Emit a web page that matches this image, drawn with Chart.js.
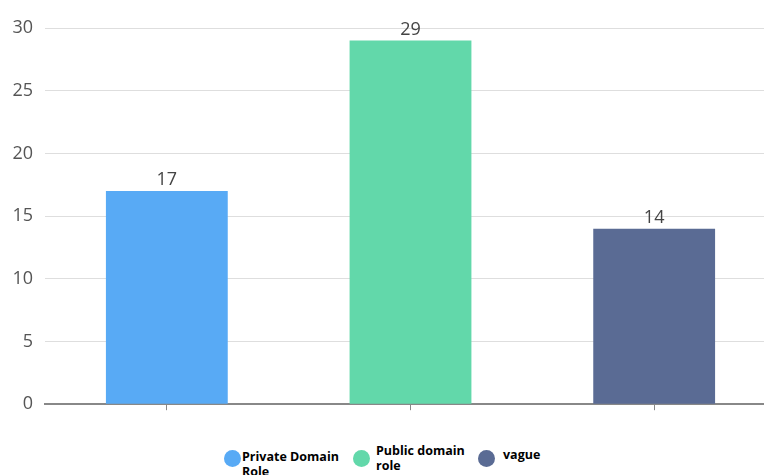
<!DOCTYPE html>
<html>
<head>
<meta charset="utf-8">
<script src="https://cdn.jsdelivr.net/npm/chart.js@4"></script>
<style>
  html, body { margin: 0; padding: 0; background: #fff; overflow: hidden; }
  #wrap { position: relative; width: 764px; height: 475px; overflow: hidden; }
  #box { position: absolute; left: 0; top: 0; width: 780px; height: 427px; }
  .leg { position: absolute; font-family: "Open Sans", "Noto Sans", sans-serif; font-weight: bold;
         font-size: 12.5px; line-height: 15px; color: #000; }
  .dot { position: absolute; width: 17px; height: 17px; border-radius: 50%; }
</style>
</head>
<body>
<div id="wrap">
  <div id="box"><canvas id="graphique"></canvas></div>
  <div class="dot" style="left:224px;top:450px;background:#58aaf5"></div>
  <div class="leg" style="left:242px;top:449px">Private Domain<br>Role</div>
  <div class="dot" style="left:353px;top:450px;background:#62d8aa"></div>
  <div class="leg" style="left:376px;top:443px">Public domain<br>role</div>
  <div class="dot" style="left:478px;top:450px;background:#5a6b94"></div>
  <div class="leg" style="left:503px;top:447px">vague</div>
</div>
<script>
// Données du graphique
const categories = ["Private Domain Role", "Public domain role", "vague"];
const valeurs = [17, 29, 14];
const couleurs = ["#58aaf5", "#62d8aa", "#5a6b94"];
const graduations = [0, 5, 10, 15, 20, 25, 30];

// Afficher la valeur au-dessus de chaque barre
const etiquettes = {
  id: "etiquettes",
  afterDatasetsDraw(chart) {
    const ctx = chart.ctx;
    ctx.save();
    ctx.font = "18px 'Open Sans', sans-serif";
    ctx.fillStyle = "#444";
    ctx.textAlign = "center";
    ctx.textBaseline = "bottom";
    chart.getDatasetMeta(0).data.forEach((barre, i) => {
      ctx.fillText(valeurs[i], barre.x, barre.y - 2);
    });
    ctx.restore();
  },
};

new Chart(document.getElementById("graphique"), {
  type: "bar",
  data: {
    labels: categories,
    datasets: [
      {
        data: valeurs,
        backgroundColor: couleurs,
        categoryPercentage: 1,
        barPercentage: 0.5,
      },
    ],
  },
  options: {
    responsive: true,
    maintainAspectRatio: false,
    animation: false,
    layout: { padding: { top: 28, right: 4 } },
    plugins: {
      legend: { display: false },
      tooltip: { enabled: false },
    },
    scales: {
      x: {
        ticks: { display: false },
        grid: { drawOnChartArea: false, offset: false, tickLength: 6, color: "#888" },
        border: { color: "#888", width: 2 },
      },
      y: {
        min: 0,
        max: 30,
        afterBuildTicks: (axe) => {
          axe.ticks = graduations.map((v) => ({ value: v }));
        },
        afterFit: (axe) => {
          axe.width = 45;
        },
        ticks: {
          padding: 12,
          color: "#555",
          font: { size: 18, family: "'Open Sans', sans-serif" },
        },
        grid: { color: "#dedede", drawTicks: false },
        border: { display: false },
      },
    },
  },
  plugins: [etiquettes],
});
</script>
</body>
</html>
